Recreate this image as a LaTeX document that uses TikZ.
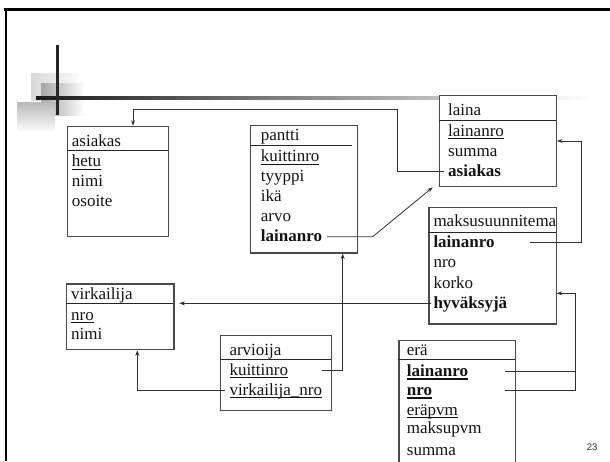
\documentclass[tikz,border=0pt]{standalone}
\usepackage{fontspec}
\setmainfont{Liberation Serif}
\newfontfamily\numfont{Liberation Sans}
\usetikzlibrary{arrows.meta,calc}
\definecolor{boxc}{HTML}{4A4A4A}
\definecolor{linec}{HTML}{303030}
\newsavebox\ulbox
\newcommand\ulin[2][0.8pt]{\sbox\ulbox{#2}\rlap{#2}\rule[-3.2pt]{\wd\ulbox}{#1}}
\newcommand\ulbold[1]{\sbox\ulbox{\bfseries #1}\rlap{\bfseries #1}\rule[-3.8pt]{\wd\ulbox}{1.6pt}}
\begin{document}
\begin{tikzpicture}[x=1pt,y=-1pt,
  tbl/.style={draw=boxc, line width=1.3pt, fill=white, inner sep=0pt, anchor=north west},
  hdr/.style={draw=black!85, line width=1pt},
  txt/.style={anchor=base west, inner sep=0pt, text height=11pt, text depth=1pt,
              font=\fontsize{17pt}{20pt}\selectfont, text=black!92},
  conn/.style={draw=linec, line width=0.8pt},
  arr/.style={conn, -{Stealth[length=5.5pt,width=4pt]}}]
\clip (0,0) rectangle (610,461);
\useasboundingbox (0,0) rectangle (610,461);
% frame
\draw[line width=3pt, black] (4,9.5) -- (610,9.5);
\draw[line width=2.5pt, black] (6,8) -- (6,461);
% decoration
\shade[left color=gray!30, right color=gray!4] (31,73) rectangle (78,100);
\shade[left color=gray!70, right color=white] (41,83) rectangle (85,115);
\shade[top color=gray!55, bottom color=gray!4] (17,102) rectangle (55,130.7);
\shade[left color=black!90, middle color=black!37, right color=white] (36,96.8) rectangle (590,99.8);
\draw[line width=3pt, black!85] (57,45) -- (57,115);
% tables
\node[tbl, minimum width=101pt, minimum height=110.3pt] (as) at (66.7,125.7) {};
\draw[hdr] (as.north west) ++(0,25) -- ++(101,0);
\node[tbl, minimum width=116.7pt, minimum height=90.7pt] (la) at (439,95) {};
\draw[hdr] (la.north west) ++(0,25) -- ++(116.7,0);
\node[tbl, minimum width=106.7pt, minimum height=127.3pt] (pa) at (250,125) {};
\draw[hdr] (pa.north west) ++(0,20) -- ++(101.7,0);
\node[tbl, minimum width=127.4pt, minimum height=116.6pt] (ms) at (428.3,206.7) {};
\draw[hdr] (ms.north west) ++(0,25.6) -- ++(127.4,0);
\node[tbl, minimum width=107.3pt, minimum height=65.7pt] (vi) at (66,283.3) {};
\draw[hdr] (vi.north west) ++(0,20) -- ++(107.3,0);
\node[tbl, minimum width=111pt, minimum height=75pt] (ar) at (220,335) {};
\draw[hdr] (ar.north west) ++(0,24.3) -- ++(111,0);
\node[tbl, minimum width=116.7pt, minimum height=135pt] (er) at (398.3,340) {};
\draw[hdr] (er.north west) ++(0,19.3) -- ++(116.7,0);
% texts
\node[txt] (as0) at (71.7,146.7) {asiakas};
\node[txt] (as1) at (71.7,166.7) {\ulin{hetu}};
\node[txt] (as2) at (71.7,186.7) {nimi};
\node[txt] (as3) at (71.7,206.7) {osoite};
\node[txt] (la0) at (448,115.7) {laina};
\node[txt] (la1) at (448,136) {\ulin{lainanro}};
\node[txt] (la2) at (448,156.3) {summa};
\node[txt] (la3) at (448,176.3) {\textbf{asiakas}};
\node[txt] (pa0) at (260.7,140.7) {pantti};
\node[txt] (pa1) at (260.7,161.7) {\ulin{kuittinro}};
\node[txt] (pa2) at (260.7,181.7) {tyyppi};
\node[txt] (pa3) at (260.7,201.7) {ikä};
\node[txt] (pa4) at (260.7,221.7) {arvo};
\node[txt] (pa5) at (260.7,241.7) {\textbf{lainanro}};
\node[txt] (ms0) at (433.3,226.7) {maksusuunnitema};
\node[txt] (ms1) at (433.3,247.3) {\textbf{lainanro}};
\node[txt] (ms2) at (433.3,267.8) {nro};
\node[txt] (ms3) at (433.3,288.3) {korko};
\node[txt] (ms4) at (433.3,308.3) {\textbf{hyväksyjä}};
\node[txt] (vi0) at (71,299.3) {virkailija};
\node[txt] (vi1) at (71,320) {\ulin{nro}};
\node[txt] (vi2) at (71,339.3) {nimi};
\node[txt] (ar0) at (229.3,355) {arvioija};
\node[txt] (ar1) at (229.3,375) {\ulin{kuittinro}};
\node[txt] (ar2) at (229.3,395) {\ulin{virkailija\_nro}};
\node[txt] (er0) at (406.7,355) {erä};
\node[txt] (er1) at (406.7,376) {\ulbold{lainanro}};
\node[txt] (er2) at (406.7,395) {\ulbold{nro}};
\node[txt] (er3) at (406.7,415) {\ulin{eräpvm}};
\node[txt] (er4) at (406.7,433.3) {maksupvm};
\node[txt] (er5) at (406.7,455) {summa};
\node[anchor=base west, inner sep=0pt, font=\numfont\fontsize{9.5pt}{11pt}\selectfont, text=black!85] (pg) at (586.7,450) {23};
% helper coordinates
\coordinate (c1) at (397.7,109);
\coordinate (asin) at (133,125.7);
\coordinate (c2) at (372.7,0);
\coordinate (lain) at (432.7,187.3);
\coordinate (mx) at (530,0);
\coordinate (rx1) at (581.7,0);
\coordinate (vin) at (179.3,0);
\coordinate (ex) at (505,0);
\coordinate (rx2) at (575.7,293.3);
\coordinate (msin) at (556.7,293.3);
\coordinate (ax) at (321.7,0);
\coordinate (px) at (342.7,0);
\coordinate (vx) at (137.3,0);
% connectors
\draw[arr] ([xshift=-4pt]la3.west) -| (c1) -| (asin);
\draw[arr] ([xshift=5pt]pa5.east) -- (c2 |- pa5.west) -- (lain);
\draw[arr] (mx |- ms1.west) -| (rx1 |- la.east) -- (la.east);
\draw[arr] ([xshift=-2pt]ms4.west) -- (vin |- ms4.west);
\draw[conn] (ex |- er1.west) -- (rx2 |- er1.west);
\draw[arr] (ex |- er2.west) -| (rx2) -- (msin);
\draw[arr] (ax |- ar1.west) -| (px |- pa.south);
\draw[arr] ([xshift=-4pt]ar2.west) -| (vx |- vi.south);
\end{tikzpicture}
\end{document}
